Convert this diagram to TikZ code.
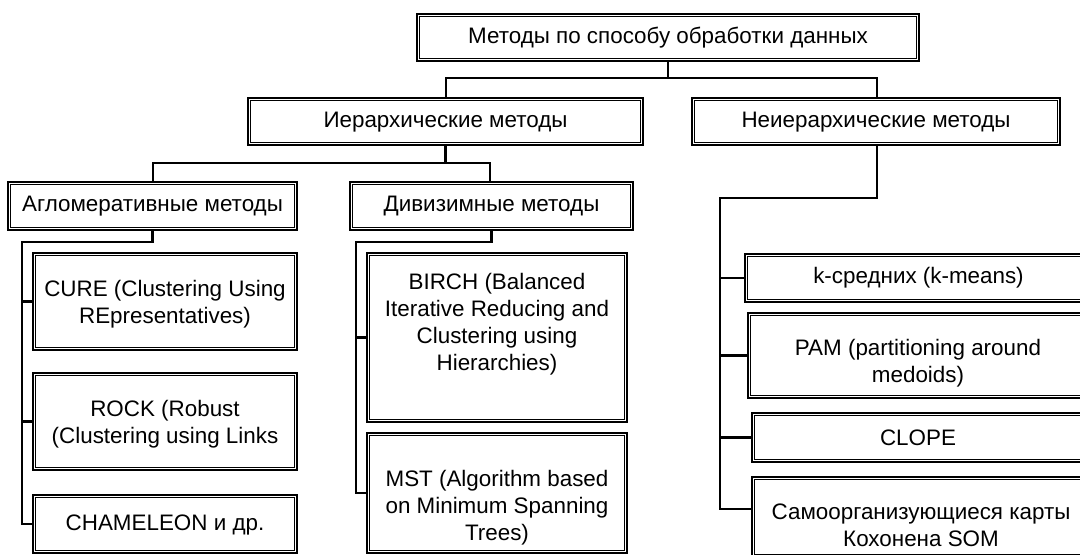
\documentclass[tikz,border=0pt]{standalone}
\usepackage{fontspec}
\setmainfont{Liberation Sans}
\tikzset{
  frame/.style={draw, line width=1.5pt, inner sep=0pt, outer sep=0pt, fill=white},
  innerframe/.style={draw, line width=0.6pt},
  caption/.style={align=center, inner sep=0pt, font=\fontsize{16.8}{20.2}\selectfont},
  wire/.style={draw, line width=1.6pt},
}
% #1 name, #2-#5 corners (x1,y1,x2,y2 in px), #6 caption centre y, #7 caption
\newcommand\blockbox[7]{%
  \node[frame, minimum width={(#4-#2)*0.75pt}, minimum height={(#5-#3)*0.75pt}]
    (#1) at ({(#2+#4)/2},{(#3+#5)/2}) {};
  \draw[innerframe] ([shift={(2pt,-2pt)}]#1.north west) rectangle ([shift={(-2pt,2pt)}]#1.south east);
  \node[caption] (#1-t) at ({(#2+#4)/2},#6) {#7};
}
\begin{document}
\begin{tikzpicture}[x=0.75pt,y=-0.75pt]
\clip (0,0) rectangle (1080,555);
\fill[white] (0,0) rectangle (1080,555);

% boxes
\blockbox{root}{417}{14}{919}{61}{38}{Методы по способу обработки данных}
\blockbox{hier}{248}{98}{643}{145}{122}{Иерархические методы}
\blockbox{nonhier}{692}{98}{1060}{145}{122}{Неиерархические методы}
\blockbox{aggl}{8}{182}{297}{230}{206}{Агломеративные методы}
\blockbox{div}{350}{182}{633}{230}{206}{Дивизимные методы}
\blockbox{cure}{33}{253}{297}{350}{304}{CURE (Clustering Using\\REpresentatives)}
\blockbox{rock}{33}{373}{297}{470}{424}{ROCK (Robust\\(Clustering using Links}
\blockbox{cham}{33}{495}{297}{553}{525}{CHAMELEON и др.}
\blockbox{birch}{367}{253}{627}{422}{324}{BIRCH (Balanced\\Iterative Reducing and\\Clustering using\\Hierarchies)}
\blockbox{mst}{367}{433}{627}{553}{508}{MST (Algorithm based\\on Minimum Spanning\\Trees)}
\blockbox{kmeans}{745}{254}{1092}{302}{278}{k-средних (k-means)}
\blockbox{pam}{748}{313}{1088}{398}{363}{PAM (partitioning around\\medoids)}
\blockbox{clope}{752}{413}{1084}{462}{438}{CLOPE}
\blockbox{som}{752}{477}{1090}{557}{525}{Самоорганизующиеся карты\\Кохонена SOM}

% junction points of the tree
\coordinate (r0) at (668,78);
\coordinate (rl) at (446,78);
\coordinate (rr) at (877,78);
\coordinate (hl) at (153,163);
\coordinate (hr) at (490,163);
\coordinate (as) at (22,242);
\coordinate (ds) at (356,242);
\coordinate (ns) at (720,198);

% top level
\draw[wire] (root.south -| r0) -- (r0);
\draw[wire] (hier.north -| rl) -- (rl) -- (rr) -- (nonhier.north -| rr);

% hierarchical branch
\draw[wire] (hier.south) -- (hier.south |- hl);
\draw[wire] (aggl.north -| hl) -- (hl) -- (hr) -- (div.north -| hr);

% agglomerative list
\draw[wire] (aggl.south) |- (as) |- (cham.west);
\draw[wire] (cure.west -| as) -- (cure.west);
\draw[wire] (rock.west -| as) -- (rock.west);

% divisive list
\draw[wire] (div.south) |- (ds) |- (mst.west);
\draw[wire] (birch.west -| ds) -- (birch.west);

% non-hierarchical list
\draw[wire] (nonhier.south -| rr) |- (ns) |- ([yshift=6pt]som.west);
\draw[wire] (kmeans.west -| ns) -- (kmeans.west);
\draw[wire] (pam.west -| ns) -- (pam.west);
\draw[wire] (clope.west -| ns) -- (clope.west);
\end{tikzpicture}
\end{document}
